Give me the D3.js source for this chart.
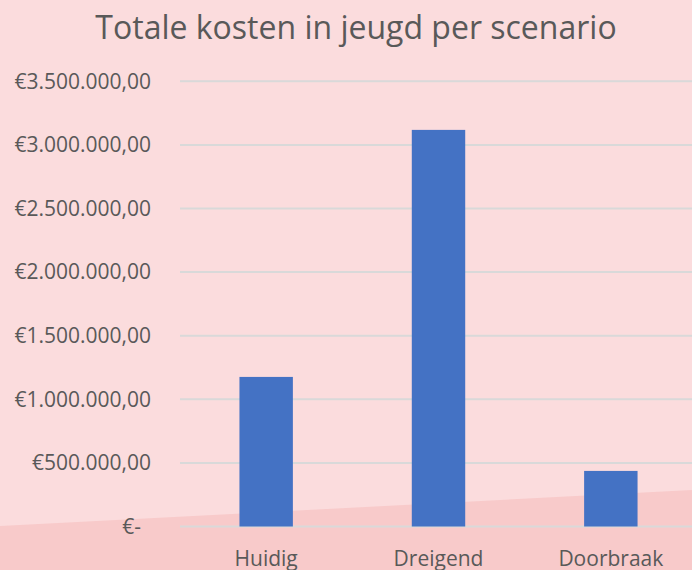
<!DOCTYPE html>
<html>
<head>
<meta charset="utf-8">
<script src="https://cdn.jsdelivr.net/npm/d3@7"></script>
<style>
  body { margin: 0; background: #fbdcdd; }
  svg { display: block; }
</style>
</head>
<body>
<div id="chart"></div>
<script>
const categories = ["Huidig", "Dreigend", "Doorbraak"];
const values = [1176000, 3118000, 437000];
const yTicks = [0, 500000, 1000000, 1500000, 2000000, 2500000, 3000000, 3500000];

const width = 692;
const height = 570;

const svg = d3
  .select("#chart")
  .append("svg")
  .attr("width", width)
  .attr("height", height);

svg.append("rect")
  .attr("width", width)
  .attr("height", height)
  .attr("fill", "#fbdcdd");

// slanted darker band at the bottom
svg.append("polygon")
  .attr("points", `0,526 ${width},490 ${width},${height} 0,${height}`)
  .attr("fill", "#f8caca");

const x = d3
  .scaleBand()
  .domain(categories)
  .range([180, 697])
  .paddingInner(0.69)
  .paddingOuter(0.345);

const y = d3.scaleLinear().domain([0, 3500000]).range([526.5, 81.3]);

// euro formatting like the spreadsheet: €1.000.000,00, zero as €-
function euro(v) {
  if (v === 0) return "€-";
  const s = d3.format(",.2f")(v);
  return "€" + s.replace(/,/g, "#").replace(".", ",").replace(/#/g, ".");
}

const grid = svg.append("g");
grid
  .selectAll("line")
  .data(yTicks)
  .enter()
  .append("line")
  .attr("x1", 180)
  .attr("x2", width)
  .attr("y1", (d) => y(d))
  .attr("y2", (d) => y(d))
  .style("stroke", "#d9d9d9")
  .style("stroke-width", "2px");

svg.append("g")
  .selectAll("text")
  .data(yTicks)
  .enter()
  .append("text")
  .attr("x", (d) => (d === 0 ? 141 : 151))
  .attr("y", (d) => y(d))
  .attr("dy", "0.35em")
  .attr("text-anchor", "end")
  .style("font-family", "Open Sans")
  .style("font-size", "21px")
  .style("fill", "#595959")
  .text((d) => euro(d));

svg.append("g")
  .selectAll("rect")
  .data(values)
  .enter()
  .append("rect")
  .attr("x", (d, i) => x(categories[i]))
  .attr("width", x.bandwidth())
  .attr("y", (d) => y(d))
  .attr("height", (d) => y(0) - y(d))
  .attr("fill", "#4472c4");

svg.append("g")
  .selectAll("text")
  .data(categories)
  .enter()
  .append("text")
  .attr("x", (d) => x(d) + x.bandwidth() / 2)
  .attr("y", 566)
  .attr("text-anchor", "middle")
  .style("font-family", "Open Sans")
  .style("font-size", "21px")
  .style("fill", "#595959")
  .text((d) => d);

svg.append("text")
  .attr("x", 356)
  .attr("y", 39)
  .attr("text-anchor", "middle")
  .style("font-family", "Open Sans")
  .style("font-size", "32px")
  .style("fill", "#595959")
  .text("Totale kosten in jeugd per scenario");
</script>
</body>
</html>
